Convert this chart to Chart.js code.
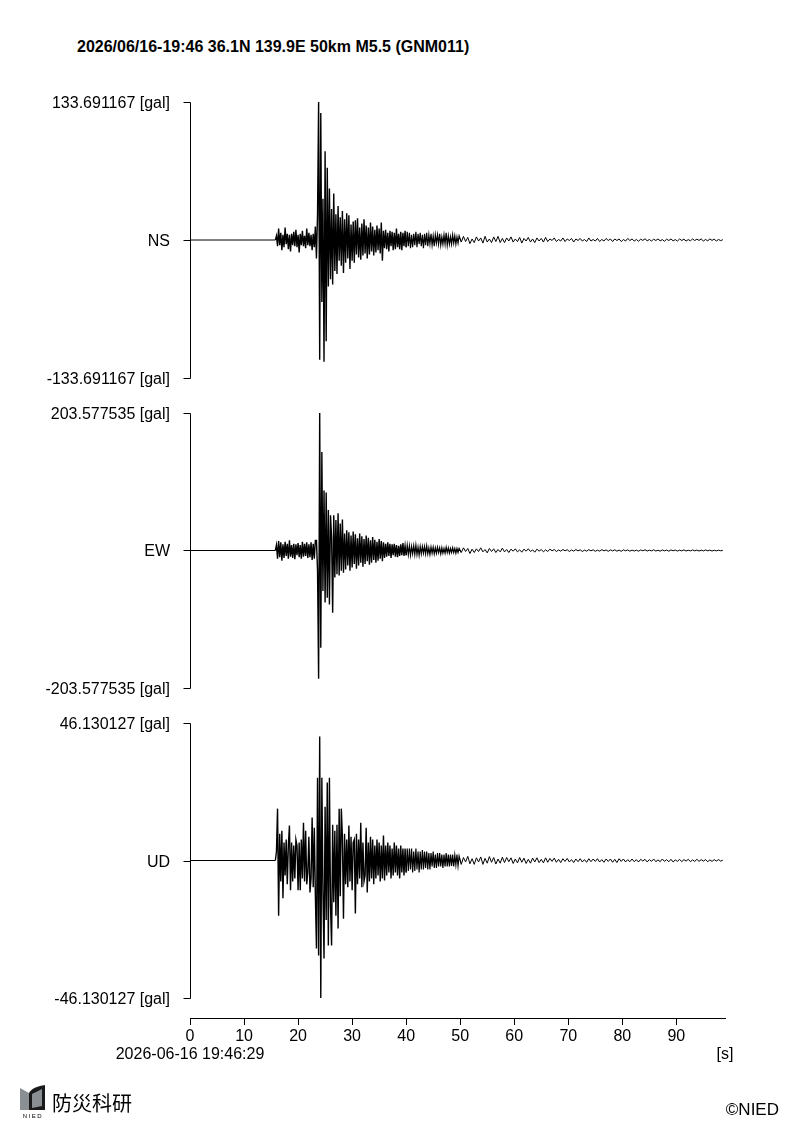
<!DOCTYPE html>
<html>
<head>
<meta charset="utf-8">
<script src="https://cdn.jsdelivr.net/npm/chart.js@4.4.1/dist/chart.umd.min.js"></script>
<style>
  body { margin: 0; background: #fff; width: 800px; height: 1132px; position: relative; overflow: hidden;
         font-family: "Liberation Sans", Arial, sans-serif; color: #000; }
  #title { position: absolute; left: 77px; top: 38px; font-weight: bold; font-size: 16px; white-space: nowrap; }
  #wave { position: absolute; left: 0; top: 0; }
  #logo { position: absolute; left: 18px; top: 1084px; }
  #org { position: absolute; left: 52px; top: 1088px; font-family: "Noto Sans CJK JP", sans-serif; font-size: 20px; }
  #copy { position: absolute; right: 21px; top: 1100px; font-family: "Liberation Sans Narrow", "Liberation Sans", sans-serif; font-size: 17px; }
</style>
</head>
<body>
<div id="title">2026/06/16-19:46 36.1N 139.9E 50km M5.5 (GNM011)</div>
<canvas id="wave" width="800" height="1132"></canvas>
<svg id="logo" width="30" height="36" viewBox="0 0 30 36">
  <path d="M2 4 L11 9 L11 26 L2 26 Z" fill="#8a8f94"/>
  <path d="M11 9 C14 4 20 2 27 1 L27 26 L11 26 Z" fill="#1a1a1a"/>
  <path d="M14 10 L24 5 L24 22 L14 24 Z" fill="#8a8f94"/>
  <text x="15" y="34" font-size="6" text-anchor="middle" font-family="Liberation Sans, sans-serif" letter-spacing="1.5">NIED</text>
</svg>
<div id="org">防災科研</div>
<div id="copy">©NIED</div>
<script>
// sampling of the traces (seconds)
const headStart = 15.8, headStep = 0.2;
const tailStart = 50.2, tailStep = 0.4;
const xMax = 99;

const components = ["NS", "EW", "UD"];
const peaks = [133.691167, 203.577535, 46.130127];
const peakLabels = ["133.691167", "203.577535", "46.130127"];
const startTime = "2026-06-16 19:46:29";
const xTicks = [0, 10, 20, 30, 40, 50, 60, 70, 80, 90];

// NS [gal]
const nsHead = [
  0, 4, -6, 11, -5, 7, -10, 5, -7, 12, -4, 6, -9, 5, -11, 6, -5, 8, -6, 10,
  -7, 5, -12, 6, -5, 9, -6, 4, -8, 11, -5, 7, -6, 5, -10, 6, -7, 13,
  -18, 25, 133.69, -116, 123, -60, 40, -118, 86, -98, 70, -45, 50, -38, 30, -43, 45, -30, 25, -33, 33, -20, 22,
  -25, 28, -32, 20, -22, 26, -18, 24, -28, 15, -20, 18, -22, 19, -14, 21, -17, 12, -19, 16,
  -15, 20, -13, 14, -18, 12, -14, 17, -11, 13, -15, 10, -12, 14, -10, 11, -13, 17, -20, 9,
  -8, 10, -9, 7, -11, 9, -6, 8, -10, 7, -9, 11, -7, 6, -9, 8, -10, 7, -6, 9,
  -7, 8, -6, 7, -8, 5, -7, 6, -5, 8, -7, 6, -4, 7, -6, 5, -8, 6, -5, 7,
  -6, 5, -4, 6, -5, 4, -6, 5, -3, 5, -4, 6, -5, 3, -4, 5, -4, 7, -5, 4,
  -4, 3, -4, 5, -3, 4, -4, 3, -3, 4
];
const nsTail = [
  -2, 3.5, -1.5, 2.5, -3.5, 1, -2.5, 3, -1, 2, -3, 3.5, -2, 1, -2.5, 3, -1.5, 3.5, -2.5, 1.5,
  -2.5, 2, -1, 3, -2, 1, -1.5, 2.5, -3, 1.5, -1, 2.5, -2, 1, -2.5, 2, -1, 1.5, -2, 2.5,
  -1.5, 1, -0.5, 2, -1.5, 0.5, -1, 2, -1.5, 1, -0.5, 1.5, -2, 1, -0.5, 1.5, -1, 0.5, -1.5, 2,
  -1, 0.5, -1, 1.5, -1.5, 0.5, -1, 1.5, -0.5, 1, -1.5, 1, -0.5, 1, -1.5, 0.5, -1, 1.5, -0.5, 1,
  -1, 0.5, -1.2, 0.8, -0.4, 1.2, -0.8, 0.5, -1, 0.8, -0.5, 1, -0.8, 0.4, -1.2, 0.8, -0.5, 1, -0.8, 0.4,
  -1, 1, -0.5, 0.8, -1, 0.4, -0.8, 1, -0.5, 0.8, -0.4, 1, -1, 0.5, -0.8, 1, -0.4, 0.8, -1, 0.5, -0.6, 0.3
];

// EW [gal]
const ewHead = [
  0, 8, -12, 14, -10, 12, -15, 9, -11, 13, -8, 10, -12, 15, -9, 8, -11, 10, -13, 9,
  -7, 11, -10, 8, -12, 13, -9, 10, -8, 12, -11, 9, -10, 12, -14, 10, -12, 15,
  15, -30, -190, 203.58, -144, 146, -60, 89, -77, 86, -70, 60, -80, 52, 20, -92, 52, -40, 45, -35, 55, -37, 40,
  -30, 46, -33, 25, -28, 30, -22, 27, -30, 22, -25, 28, -20, 24, -27, 18, -22, 25, -18, 21,
  -24, 17, -20, 22, -16, 19, -21, 15, -18, 20, -14, 16, -18, 13, -15, 17, -12, 14, -16, 12,
  -11, 10, -9, 12, -8, 10, -11, 9, -7, 10, -9, 8, -10, 7, -8, 9, -7, 11, -8, 7,
  -7, 8, -6, 7, -7, 6, -5, 7, -6, 8, -6, 5, -7, 6, -5, 6, -4, 6, -5, 7,
  -5, 4, -6, 5, -4, 5, -5, 4, -4, 5, -3, 4, -5, 4, -4, 3, -4, 5, -3, 4,
  -4, 3, -3, 4, -3, 3, -4, 3, -3, 3
];
const ewTail = [
  -3, 4, -1.5, 3, -4.5, 2, -3, 2.5, -1.5, 4, -2, 1.5, -3.5, 3, -1.5, 2.5, -3, 1.5, -2, 3.5,
  -2, 1.5, -3, 2, -1, 2.5, -2, 1, -2.5, 2, -1, 2.5, -1.5, 1, -2.5, 2, -1, 1.5, -2, 1,
  -1.5, 2, -0.5, 1.5, -1.5, 0.8, -1, 1.5, -0.5, 1.2, -1.5, 0.8, -1, 1.5, -0.6, 1, -1.5, 0.6, -1, 1.2,
  -0.5, 1, -1.2, 0.6, -1, 1.2, -0.5, 0.8, -1.2, 1, -0.6, 1, -1, 0.5, -1.2, 1, -0.5, 0.8, -1, 0.6,
  -0.8, 0.5, -1, 0.8, -0.4, 1, -0.8, 0.5, -0.6, 1, -0.8, 0.4, -1, 0.8, -0.5, 0.6, -1, 0.8, -0.4, 0.6,
  -0.8, 0.5, -0.6, 1, -0.8, 0.4, -0.6, 0.8, -0.5, 0.6, -0.8, 0.4, -0.6, 0.8, -0.5, 0.6, -0.8, 0.4, -0.6, 0.5, -0.4, 0.3
];

// UD [gal]
const udHead = [
  0, 3, 17.4, -18.5, 9, -7, 10, -12.7, 6, -5, 7, -8, 5, 11.7, -10, 6, -7, 5, -6, 7,
  5, -10, 6, -10, 7, -6, 12.7, -7, 10, -8, -4, 8, -10.7, -6, 14.4, -9, 11, -12,
  -29.5, 27.8, -31.9, 41.6, -46.13, 27.8, -10, -32.9, 18, -20, 26.2, -28.5, 27.8, -15, -28.5, 12, -14, 10, -18.5, 12, -22.8, 17.4, -12,
  17.4, 8, -19.5, 9, -8, 7, -9, 11.7, -7, 8, -10, 6, 7, -17.8, 9, -8, 7, -6, 12.7, -9,
  6, -7, -5, 11, -10.7, 6, -7, 8, -6, 7, -8, 5, -6, 7, -5, 6, -7, 5, -6, 8.4,
  -6.7, 5, -5, 6, -4, 5, -6, 4, -5, 6, -4, 5, -5, 4, -6, 5, -4, 4, -5, 4,
  -4, 4, -3.5, 4, -3, 4, -4, 3, -3.5, 4, -3, 3, -4, 3, -3, 3.5, -3, 3, -2.5, 3,
  -3, 2.5, -3, 2.5, -2, 3, -2.5, 2, -2.5, 2.5, -2, 2.5, -2, 2, -2.5, 2, -2, 2.5, -2, 2,
  -2, 2, -1.8, 2, -2, 1.8, -1.5, 2, -1.8, 1.5
];
const udTail = [
  -1.3, 1, -0.5, 1.4, -1.1, 0.6, -1.3, 0.9, -0.5, 1.2, -1.3, 0.7, -0.9, 1.3, -0.6, 1, -1.2, 0.5, -0.9, 1.1,
  -0.7, 1, -0.4, 0.9, -1, 0.5, -0.8, 1, -0.6, 0.8, -1, 0.4, -0.9, 0.8, -0.5, 0.9, -0.7, 0.4, -0.8, 0.9,
  -0.6, 0.7, -0.3, 0.8, -0.6, 0.4, -0.7, 0.6, -0.3, 0.7, -0.5, 0.3, -0.7, 0.5, -0.4, 0.6, -0.5, 0.3, -0.6, 0.6,
  -0.4, 0.5, -0.3, 0.6, -0.5, 0.3, -0.6, 0.5, -0.3, 0.5, -0.6, 0.4, -0.7, 0.6, -0.3, 0.5, -0.5, 0.3, -0.4, 0.5,
  -0.4, 0.3, -0.5, 0.4, -0.2, 0.4, -0.5, 0.3, -0.3, 0.5, -0.4, 0.2, -0.4, 0.5, -0.3, 0.3, -0.4, 0.4, -0.5, 0.2,
  -0.3, 0.4, -0.4, 0.3, -0.2, 0.4, -0.4, 0.2, -0.3, 0.4, -0.3, 0.3, -0.2, 0.3, -0.4, 0.2, -0.3, 0.3, -0.2, 0.3, -0.2, 0.1
];

// pixel bands of the three panels inside the plot area
const plotTop = 102, plotBottom = 1018;
const bands = [[102, 378], [413, 688], [723, 998]];

const toPoints = (head, tail) => {
  let pts = [{ x: 0, y: 0 }];
  head.forEach((v, i) => pts.push({ x: headStart + i * headStep, y: v }));
  tail.forEach((v, i) => pts.push({ x: tailStart + i * tailStep, y: v }));
  return pts;
};

const traces = [toPoints(nsHead, nsTail), toPoints(ewHead, ewTail), toPoints(udHead, udTail)];

// each trace gets its own y scale, stretched so that +-peak lands on its band
const yScale = (i) => {
  const k = (2 * peaks[i]) / (bands[i][1] - bands[i][0]);
  const max = peaks[i] + (bands[i][0] - plotTop) * k;
  return { display: false, min: max - (plotBottom - plotTop) * k, max: max };
};

// thicker pen where the record is dense, thin on the quiet parts
const lineWidth = (c) => {
  const t = c.p0.parsed.x;
  if (t < headStart) return 1;
  if (t < 40) return 1.4;
  if (t < tailStart) return 1.2;
  return 1;
};

const fontAxis = '16px "Liberation Sans", Arial, sans-serif';

const sideAxes = {
  id: "sideAxes",
  afterDraw(chart) {
    const ctx = chart.ctx;
    const left = chart.chartArea.left;
    const x = Math.round(left) + 0.5;
    ctx.save();
    ctx.strokeStyle = "#000";
    ctx.fillStyle = "#000";
    ctx.lineWidth = 1;
    ctx.font = fontAxis;
    ctx.textAlign = "right";
    ctx.textBaseline = "middle";
    for (let i = 0; i < components.length; i++) {
      const s = chart.scales["y" + i];
      const top = Math.round(s.getPixelForValue(peaks[i])) + 0.5;
      const mid = Math.round(s.getPixelForValue(0)) + 0.5;
      const bot = Math.round(s.getPixelForValue(-peaks[i])) + 0.5;
      ctx.beginPath();
      ctx.moveTo(x, top);
      ctx.lineTo(x, bot);
      [top, mid, bot].forEach((y) => {
        ctx.moveTo(x - 7, y);
        ctx.lineTo(x, y);
      });
      ctx.stroke();
      ctx.fillText(peakLabels[i] + " [gal]", left - 20, top + 1);
      ctx.fillText(components[i], left - 20, mid + 1);
      ctx.fillText("-" + peakLabels[i] + " [gal]", left - 20, bot + 1);
    }
    const xs = chart.scales.x;
    ctx.textAlign = "center";
    ctx.fillText(startTime, xs.getPixelForValue(0), 1055);
    ctx.fillText("[s]", xs.getPixelForValue(xMax), 1055);
    ctx.restore();
  },
};

const ctx = document.getElementById("wave").getContext("2d");

const data = {
  datasets: traces.map((pts, i) => ({
    label: components[i],
    data: pts,
    yAxisID: "y" + i,
    borderColor: "#000",
    borderWidth: 1,
    segment: { borderWidth: lineWidth },
    pointRadius: 0,
    tension: 0,
    fill: false,
  })),
};

const config = {
  type: "line",
  data: data,
  options: {
    responsive: false,
    animation: false,
    events: [],
    layout: { padding: { left: 190, right: 75, top: plotTop, bottom: 1132 - plotBottom - 30 } },
    plugins: { legend: { display: false }, tooltip: { enabled: false } },
    scales: {
      x: {
        type: "linear",
        position: "bottom",
        min: 0,
        max: xMax,
        afterFit: (s) => { s.height = 30; },
        afterBuildTicks: (s) => { s.ticks = xTicks.map((v) => ({ value: v })); },
        ticks: { color: "#000", font: { family: '"Liberation Sans", Arial, sans-serif', size: 16 }, padding: 2, maxRotation: 0, autoSkip: false },
        grid: { drawOnChartArea: false, drawTicks: true, tickLength: 7, color: "#000", lineWidth: 1 },
        border: { display: true, color: "#000", width: 1 },
      },
      y0: yScale(0),
      y1: yScale(1),
      y2: yScale(2),
    },
  },
  plugins: [sideAxes],
};

const myChart = new Chart(ctx, config);
</script>
</body>
</html>
